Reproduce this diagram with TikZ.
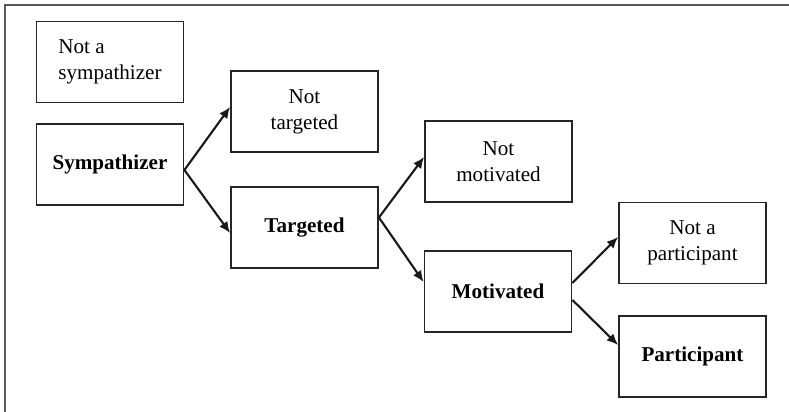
\documentclass[tikz,border=0pt]{standalone}
\usepackage{fontspec}
\setmainfont{Liberation Serif}
\usetikzlibrary{arrows.meta,calc}

\tikzset{
  stage/.style={draw=black!85, line width=1.3pt, minimum width=3.675cm, minimum height=2.025cm,
    align=center, inner sep=2pt, font=\fontsize{15}{18.5}\selectfont},
  chosen/.style={stage, font=\fontsize{15}{18.5}\selectfont\bfseries},
  path/.style={line width=1.5pt, draw=black!90, -{Latex[length=8pt,width=7pt]}}
}

\begin{document}
\begin{tikzpicture}[x=0.025cm, y=-0.025cm]

% Page area and frame (only top and left edges show)
\useasboundingbox (0,0) rectangle (789,412);
\draw[black!65, line width=1.4pt] (5,412) -- (5,5) -- (789,5);

% Column 1: sympathy
\node[stage, align=left] (notsymp) at (110,62) {Not a\\sympathizer};
\node[chosen] (symp) at (110,164.5) {Sympathizer};

% Column 2: targeting
\node[stage] (nottarg) at (304.5,111.5) {Not\\targeted};
\node[chosen] (targ) at (304.5,227.5) {Targeted};

% Column 3: motivation
\node[stage] (notmot) at (498.5,161.5) {Not\\motivated};
\node[chosen] (mot) at (498,291.5) {Motivated};

% Column 4: participation
\node[stage] (notpart) at (692.5,243) {Not a\\participant};
\node[chosen] (part) at (692.5,356.5) {Participant};

% Branches
\draw[path] ($(symp.east)+(0,5.5)$) -- ($(nottarg.west)+(0,-4.5)$);
\draw[path] ($(symp.east)+(0,5.5)$) -- ($(targ.west)+(0,5.5)$);
\draw[path] ($(targ.east)+(0,-10)$) -- ($(notmot.west)+(0,-4.5)$);
\draw[path] ($(targ.east)+(0,-10)$) -- ($(mot.west)+(0,-9.5)$);
\draw[path] ($(mot.east)+(0,-8.5)$) -- ($(notpart.west)+(0,-6)$);
\draw[path] ($(mot.east)+(0,8.5)$) -- ($(part.west)+(0,-11.5)$);

\end{tikzpicture}
\end{document}
